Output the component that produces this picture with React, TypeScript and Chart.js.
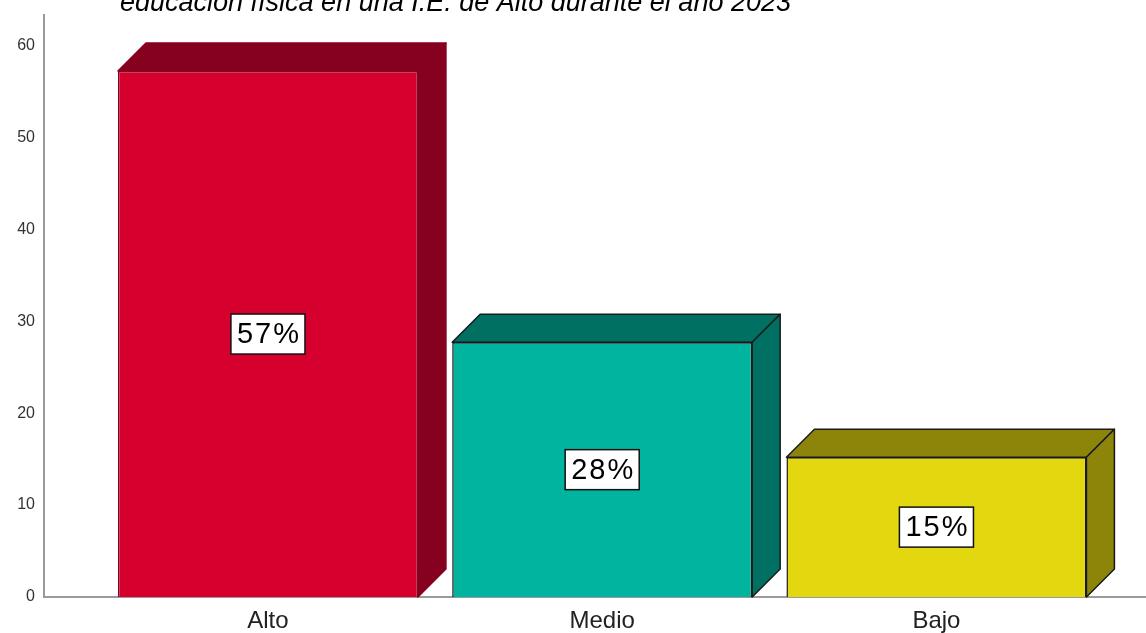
import React, { useEffect, useRef } from 'react';
import { Chart, registerables } from 'chart.js';

Chart.register(...registerables);

const categories = ['Alto', 'Medio', 'Bajo'];
const values = [57.2, 27.7, 15.2];
const yTicks = [0, 10, 20, 30, 40, 50, 60];
const frontColors = ['#D6002F', '#00B4A0', '#E3D710'];
const darkColors = ['#86001F', '#007062', '#8C850A'];
const edgeColors = ['#86001F', '#1a1a1a', '#1a1a1a'];
const titleText = 'educación física en una I.E. de Alto durante el año 2023';

const FONT = '"Liberation Sans", Arial, sans-serif';
const DEPTH = 28;

const bars3d = {
  id: 'bars3d',
  beforeDatasetsDraw(chart: any) {
    const ctx = chart.ctx;
    const meta = chart.getDatasetMeta(0);
    ctx.save();
    meta.data.forEach((bar: any, i: number) => {
      const { x, y, base, width } = bar.getProps(['x', 'y', 'base', 'width'], true);
      const l = x - width / 2;
      const r = x + width / 2;
      const d = DEPTH;
      ctx.fillStyle = darkColors[i];
      ctx.strokeStyle = edgeColors[i];
      ctx.lineWidth = 1.5;
      ctx.lineJoin = 'round';
      ctx.beginPath();
      ctx.moveTo(l, y);
      ctx.lineTo(l + d, y - d);
      ctx.lineTo(r + d, y - d);
      ctx.lineTo(r, y);
      ctx.closePath();
      ctx.fill();
      ctx.stroke();
      ctx.beginPath();
      ctx.moveTo(r, y);
      ctx.lineTo(r + d, y - d);
      ctx.lineTo(r + d, base - d);
      ctx.lineTo(r, base);
      ctx.closePath();
      ctx.fill();
      ctx.stroke();
    });
    ctx.restore();
  },
  afterDatasetsDraw(chart: any) {
    const ctx = chart.ctx;
    const meta = chart.getDatasetMeta(0);
    ctx.save();
    meta.data.forEach((bar: any, i: number) => {
      const { x, y, base } = bar.getProps(['x', 'y', 'base'], true);
      const cy = (y + base) / 2;
      const text = `${Math.round(values[i])}%`;
      ctx.font = `29px ${FONT}`;
      (ctx as any).letterSpacing = '2px';
      const w = ctx.measureText(text).width;
      const bw = w + 10;
      const bh = 40;
      ctx.fillStyle = '#ffffff';
      ctx.fillRect(x - bw / 2, cy - bh / 2, bw, bh);
      ctx.strokeStyle = '#111111';
      ctx.lineWidth = 1.5;
      ctx.strokeRect(x - bw / 2, cy - bh / 2, bw, bh);
      ctx.fillStyle = '#000000';
      ctx.textAlign = 'left';
      ctx.textBaseline = 'middle';
      ctx.fillText(text, x - w / 2 + 1, cy + 1);
    });
    ctx.restore();
    // cut-off title at top
    ctx.save();
    (ctx as any).letterSpacing = '0px';
    ctx.font = `italic 27px ${FONT}`;
    ctx.fillStyle = '#000000';
    ctx.textAlign = 'left';
    ctx.textBaseline = 'alphabetic';
    ctx.fillText(titleText, 120, 11);
    ctx.restore();
  },
};

export default function App() {
  const canvasRef = useRef<HTMLCanvasElement | null>(null);

  useEffect(() => {
    if (!canvasRef.current) return;
    const chart = new Chart(canvasRef.current, {
      type: 'bar',
      data: {
        datasets: [
          {
            data: values.map((v, i) => ({ x: i, y: v })),
            backgroundColor: frontColors,
            borderColor: edgeColors,
            borderWidth: 1.5,
            barPercentage: 0.8975,
            categoryPercentage: 1,
          },
        ],
      },
      options: {
        animation: false,
        responsive: true,
        maintainAspectRatio: false,
        layout: { padding: { top: 15, right: 0, left: 0, bottom: 0 } },
        plugins: {
          legend: { display: false },
          tooltip: { enabled: false },
          title: { display: false },
        },
        scales: {
          x: {
            type: 'linear',
            offset: false,
            min: -0.67,
            max: 2.627,
            grid: { display: false, drawTicks: false, offset: false },
            border: { display: true, color: '#9a9a9a', width: 2 },
            afterBuildTicks: (scale: any) => {
              scale.ticks = categories.map((_, i) => ({ value: i }));
            },
            afterFit: (scale: any) => {
              scale.height = 36;
              scale.paddingLeft = 0;
              scale.paddingRight = 0;
            },
            ticks: {
              autoSkip: false,
              maxRotation: 0,
              padding: 10,
              color: '#222222',
              font: { family: FONT, size: 24 },
              callback: (v: any) => categories[v] ?? '',
            },
          },
          y: {
            min: 0,
            max: 63.3,
            grid: { display: false, drawTicks: false },
            border: { display: true, color: '#9a9a9a', width: 2 },
            afterBuildTicks: (scale: any) => {
              scale.ticks = yTicks.map((v) => ({ value: v }));
            },
            afterFit: (scale: any) => {
              scale.width = 44;
              scale.paddingTop = 0;
              scale.paddingBottom = 0;
            },
            ticks: {
              padding: 9,
              color: '#333333',
              font: { family: FONT, size: 16 },
              callback: (v: any) => String(v),
            },
          },
        },
      },
      plugins: [bars3d],
    } as any);
    return () => chart.destroy();
  }, []);

  return (
    <div style={{ position: 'fixed', left: 0, top: 0, width: 1146, height: 633, background: '#ffffff' }}>
      <canvas ref={canvasRef} />
    </div>
  );
}
